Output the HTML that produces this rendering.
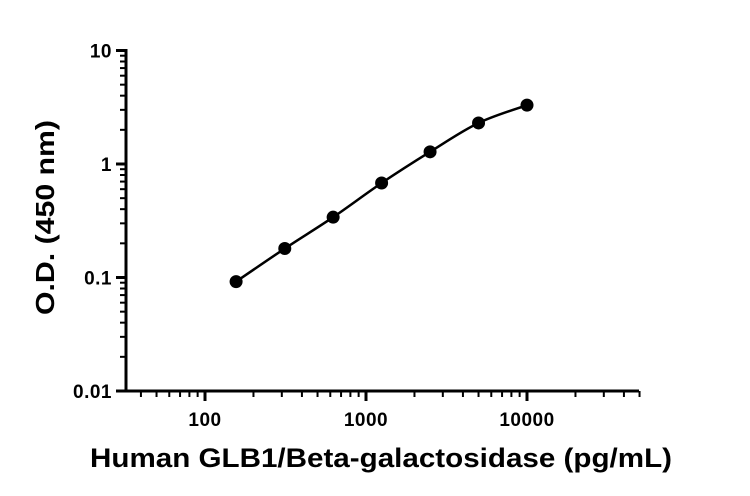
<!DOCTYPE html>
<html><head><meta charset="utf-8"><style>
html,body{margin:0;padding:0;background:#fff;}
svg{display:block;}
text{font-family:"Liberation Sans",Arial,sans-serif;font-weight:bold;fill:#000;}
</style></head><body>
<svg id="s" width="750" height="496" xmlns="http://www.w3.org/2000/svg"></svg>
<script>
const s=document.getElementById('s');
const X=v=>205+(Math.log10(v)-2)*161;
const Y=v=>164-Math.log10(v)*113.5;
let h='';
h+='<line x1="126" y1="49" x2="126" y2="392.5" stroke="#000" stroke-width="3"/>';
h+='<line x1="124.5" y1="391" x2="639" y2="391" stroke="#000" stroke-width="3"/>';
for(let d=-2;d<=1;d++){
  const y=Y(Math.pow(10,d));
  h+=`<line x1="116" y1="${y}" x2="126" y2="${y}" stroke="#000" stroke-width="3"/>`;
  const lab=['0.01','0.1','1','10'][d+2];
  h+=`<text x="112" y="${y+7}" font-size="19" letter-spacing="0.5" text-anchor="end">${lab}</text>`;
  if(d<1) for(let m=2;m<=9;m++){const yy=Y(m*Math.pow(10,d));
    h+=`<line x1="120" y1="${yy}" x2="126" y2="${yy}" stroke="#000" stroke-width="2"/>`;}
}
for(let d=1;d<=4;d++){
  for(let m=1;m<=9;m++){
    const v=m*Math.pow(10,d); const x=X(v);
    if(x<127||x>640) continue;
    if(m==1){h+=`<line x1="${x}" y1="391" x2="${x}" y2="401" stroke="#000" stroke-width="3"/>`;
      h+=`<text x="${x}" y="426" font-size="19" letter-spacing="0.5" text-anchor="middle">${v}</text>`;}
    else h+=`<line x1="${x}" y1="391" x2="${x}" y2="397" stroke="#000" stroke-width="2"/>`;
  }
}
const pts=[[156,0.092],[313,0.18],[625,0.34],[1250,0.68],[2500,1.28],[5000,2.3],[10000,3.3]].map(p=>[X(p[0]),Y(p[1])]);
let d=`M${pts[0][0]},${pts[0][1]}`;
for(let i=0;i<pts.length-1;i++){
  const p0=pts[Math.max(0,i-1)],p1=pts[i],p2=pts[i+1],p3=pts[Math.min(pts.length-1,i+2)];
  const c1=[p1[0]+(p2[0]-p0[0])/6,p1[1]+(p2[1]-p0[1])/6];
  const c2=[p2[0]-(p3[0]-p1[0])/6,p2[1]-(p3[1]-p1[1])/6];
  d+=` C${c1[0]},${c1[1]} ${c2[0]},${c2[1]} ${p2[0]},${p2[1]}`;
}
h+=`<path d="${d}" fill="none" stroke="#000" stroke-width="2.5"/>`;
pts.forEach(p=>{h+=`<circle cx="${p[0]}" cy="${p[1]}" r="6.5" fill="#000"/>`;});
h+='<text x="90" y="467" font-size="27" textLength="582" lengthAdjust="spacingAndGlyphs">Human GLB1/Beta-galactosidase (pg/mL)</text>';
h+='<text transform="translate(54,315) rotate(-90)" font-size="26" textLength="195" lengthAdjust="spacingAndGlyphs">O.D. (450 nm)</text>';
s.innerHTML=h;
</script>
</body></html>
